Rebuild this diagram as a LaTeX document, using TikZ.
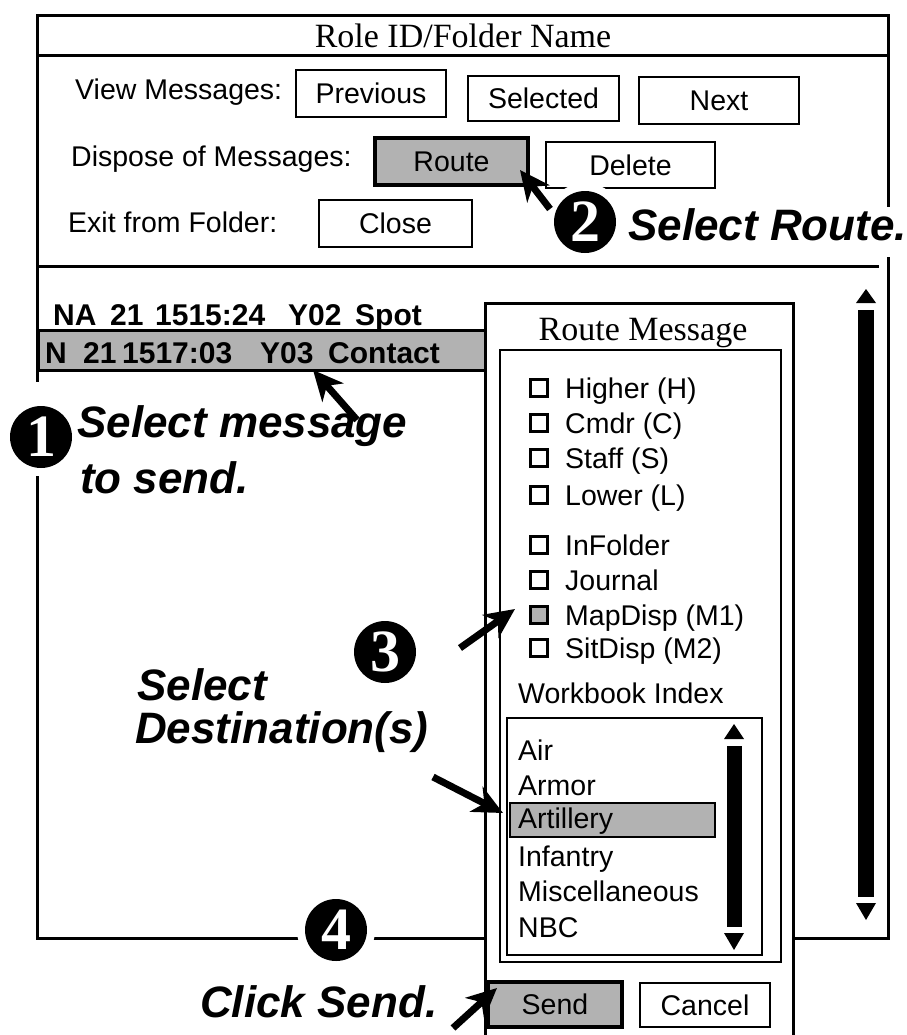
\documentclass[tikz,border=0pt]{standalone}
\usepackage{fontspec}
\setmainfont{Liberation Serif}
\setsansfont{Liberation Sans}
\usetikzlibrary{arrows.meta}
\newcommand\fsz[1]{\fontsize{#1}{#1}\selectfont}
\begin{document}
\begin{tikzpicture}[x=1pt,y=-1pt,
 frame/.style={line width=3pt, line cap=rect},
 btn/.style={draw, line width=2.5pt, inner sep=0, font=\sffamily\fsz{28.5}, text height=20.5pt, text depth=0pt},
 hl/.style={fill=black!30},
 txt/.style={font=\sffamily\fsz{28.5}, inner sep=0, anchor=base west},
 msg/.style={font=\sffamily\bfseries\fsz{30}, inner sep=0, anchor=base west},
 callout/.style={font=\sffamily\bfseries\itshape\fsz{44}, inner sep=0, anchor=base west},
 wtitle/.style={font=\rmfamily\fsz{34}, inner sep=0, anchor=base},
 num/.style={circle, fill=black, minimum size=62pt, inner sep=0, text=white, font=\rmfamily\bfseries\fsz{60}, preaction={draw=white, line width=16pt}},
 chk/.style={draw, line width=2.5pt, minimum size=17pt, inner sep=0},
 pointer/.style={line width=7pt, -{Stealth[length=30pt,width=28pt,inset=9pt]}}
]
\useasboundingbox (0,0) rectangle (906,1035);
% ---------- main window frame ----------
\coordinate (tl) at (37,16);
\coordinate (tr) at (888,16);
\coordinate (bl) at (37,938);
\coordinate (br) at (888,938);
\draw[frame] (37,380) -- (tl) -- (tr) -- (888,205);
\draw[frame] (888,258) -- (br) -- (bl) -- (37,477);
\draw[frame] (37,56) -- (888,56);
\draw[frame] (37,266) -- (877,266);
\node[wtitle] (wt) at (463,48) {Role ID/Folder Name};
% ---------- rows of buttons ----------
\node[txt] (lview) at (75,100) {View Messages:};
\node[btn, minimum width=150pt, minimum height=47pt] (prev) at (371,93.5) {Previous};
\node[btn, minimum width=151pt, minimum height=45pt] (sel) at (543.5,98.5) {Selected};
\node[btn, minimum width=160pt, minimum height=47pt] (next) at (719,100.5) {Next};
\node[txt] (ldisp) at (71,167) {Dispose of Messages:};
\node[btn, hl, line width=3.5pt, minimum width=153pt, minimum height=47pt] (route) at (451.5,161.5) {Route};
\node[btn, minimum width=169pt, minimum height=46pt] (del) at (630.5,165) {Delete};
\node[txt] (lexit) at (68,232) {Exit from Folder:};
\node[btn, minimum width=153pt, minimum height=47pt] (close) at (395.5,223.5) {Close};
% ---------- message list ----------
\node[msg] (r1a) at (53,325) {NA};
\node[msg] (r1b) at (110,325) {21};
\node[msg] (r1c) at (155,325) {1515:24};
\node[msg] (r1d) at (288,325) {Y02};
\node[msg] (r1e) at (355,325) {Spot};
\draw[line width=3pt, hl] (38,330) rectangle (487,370);
\node[msg] (r2a) at (45,363) {N};
\node[msg] (r2b) at (83,363) {21};
\node[msg] (r2c) at (122,363) {1517:03};
\node[msg] (r2d) at (260,363) {Y03};
\node[msg] (r2e) at (328,363) {Contact};
% ---------- main scrollbar ----------
\fill (866,289) -- (876,303) -- (856,303) -- cycle;
\fill (858,310) rectangle (874,897);
\fill (856,903) -- (876,903) -- (866,920) -- cycle;
% ---------- route message dialog ----------
\draw[frame, fill=white] (485,1045) -- (485,303) -- (793,303) -- (793,1045);
\node[wtitle] (rt) at (643,340) {Route Message};
\draw[line width=2.5pt] (500,350) rectangle (781,962);
\node[chk] (c1) at (539,388) {};
\node[chk] (c2) at (539,423) {};
\node[chk] (c3) at (539,458) {};
\node[chk] (c4) at (539,495) {};
\node[chk] (c5) at (539,545) {};
\node[chk] (c6) at (539,580) {};
\node[chk, hl] (c7) at (539,615) {};
\node[chk] (c8) at (539,648) {};
\node[txt] (t1) at (565,398) {Higher (H)};
\node[txt] (t2) at (565,433) {Cmdr (C)};
\node[txt] (t3) at (565,468) {Staff (S)};
\node[txt] (t4) at (565,505) {Lower (L)};
\node[txt] (t5) at (565,555) {InFolder};
\node[txt] (t6) at (565,590) {Journal};
\node[txt] (t7) at (565,625) {MapDisp (M1)};
\node[txt] (t8) at (565,658) {SitDisp (M2)};
\node[txt] (wbi) at (518,703) {Workbook Index};
\draw[line width=2.5pt] (507,718) rectangle (762,955);
\draw[line width=2.5pt, hl] (510,803) rectangle (715,837);
\node[txt] (w1) at (518,760) {Air};
\node[txt] (w2) at (518,795) {Armor};
\node[txt] (w3) at (518,828) {Artillery};
\node[txt] (w4) at (518,866) {Infantry};
\node[txt] (w5) at (518,901) {Miscellaneous};
\node[txt] (w6) at (518,937) {NBC};
\fill (734,724) -- (744,739) -- (724,739) -- cycle;
\fill (727,746) rectangle (742,927);
\fill (724,933) -- (744,933) -- (734,950) -- cycle;
\node[btn, hl, line width=4pt, minimum width=134pt, minimum height=45pt] (send) at (555,1004.5) {Send};
\node[btn, minimum width=130pt, minimum height=44pt] (cancel) at (705,1005) {Cancel};
% ---------- step callouts ----------
\node[num] (n1) at (41,437) {1};
\node[callout] (s1a) at (77,437) {Select message};
\node[callout] (s1b) at (80,493) {to send.};
\node[num] (n2) at (585,222) {2};
\node[callout] (s2) at (628,240) {Select Route.};
\node[num] (n3) at (385,652) {3};
\node[callout] (s3a) at (137,700) {Select};
\node[callout] (s3b) at (135,743) {Destination(s)};
\node[num] (n4) at (336,930) {4};
\node[callout] (s4) at (200,1017) {Click Send.};
% ---------- pointers ----------
\coordinate (a1s) at (357,420); \coordinate (a1e) at (313,370);
\coordinate (a2s) at (550,209); \coordinate (a2e) at (520,170);
\coordinate (a3s) at (460,648); \coordinate (a3e) at (515,609);
\coordinate (a4s) at (433,777); \coordinate (a4e) at (503,813);
\coordinate (a5s) at (453,1028); \coordinate (a5e) at (497,988);
\draw[pointer] (a1s) -- (a1e);
\draw[pointer] (a2s) -- (a2e);
\draw[pointer] (a3s) -- (a3e);
\draw[pointer] (a4s) -- (a4e);
\draw[pointer] (a5s) -- (a5e);
\end{tikzpicture}
\end{document}
